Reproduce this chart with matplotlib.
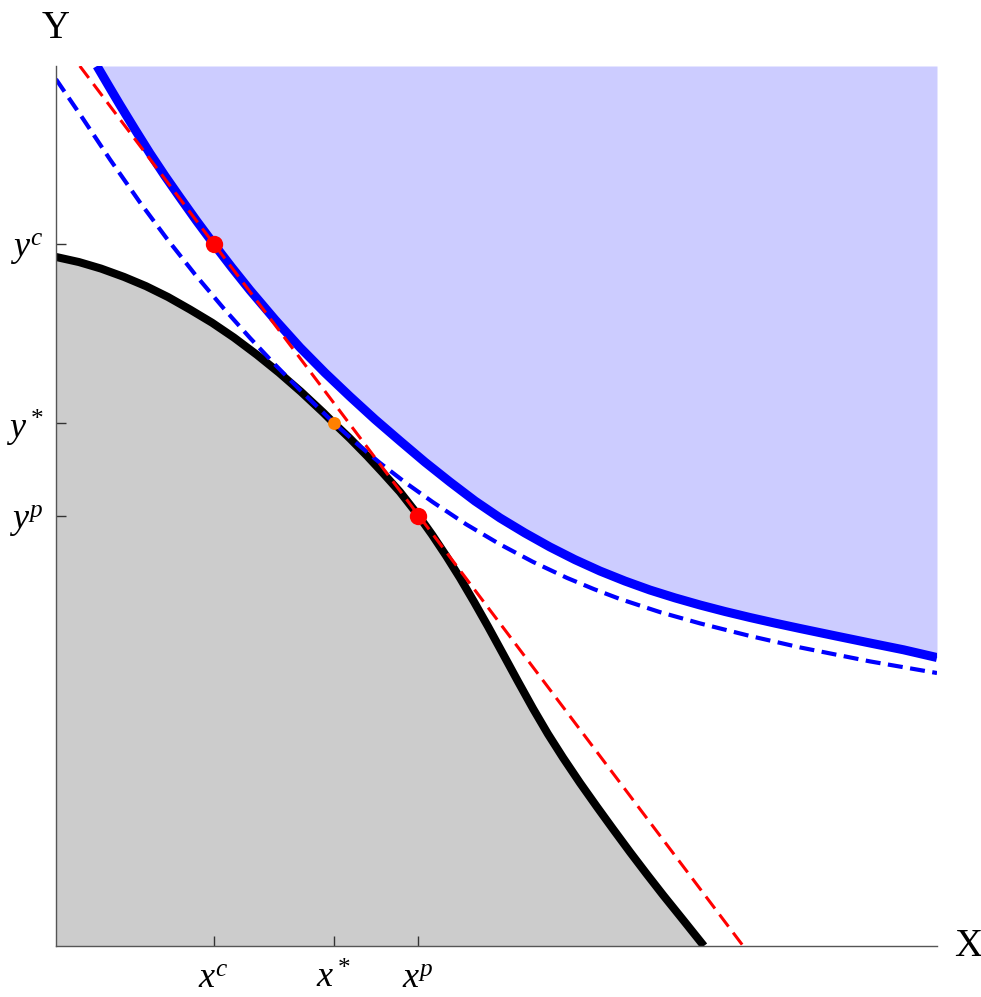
import matplotlib
matplotlib.use("Agg")
import matplotlib.pyplot as plt

# ---- data (x: good X, y: good Y) ----
ppf_x = [0.0, 0.261, 0.511, 0.772, 1.022, 1.271, 1.521, 1.771, 2.020, 2.281, 2.531, 2.781,
         3.031, 3.155, 3.337, 3.530, 3.712, 3.905, 4.109, 4.268, 4.427, 4.586, 4.745, 4.904,
         5.074, 5.244, 5.414, 5.584, 5.755, 5.948, 6.141, 6.322, 6.515, 6.708, 6.890, 7.117, 7.355]
ppf_y = [7.830, 7.772, 7.698, 7.603, 7.498, 7.375, 7.233, 7.083, 6.914, 6.718, 6.516, 6.298,
         6.064, 5.941, 5.767, 5.570, 5.374, 5.159, 4.898, 4.675, 4.436, 4.182, 3.911, 3.630,
         3.319, 3.006, 2.699, 2.409, 2.140, 1.853, 1.580, 1.330, 1.068, 0.814, 0.580, 0.298, 0.0]

ic_hi_x = [0.465, 0.596, 0.726, 0.897, 1.067, 1.237, 1.407, 1.595, 1.782, 1.992, 2.202,
           2.486, 2.770, 3.053, 3.337, 3.621, 3.905, 4.188, 4.472, 4.756, 5.040, 5.323,
           5.607, 5.891, 6.175, 6.459, 6.742, 7.026, 7.310, 7.594, 7.877, 8.161, 8.445,
           8.842, 9.240, 9.620, 10.0]
ic_hi_y = [10.0, 9.777, 9.558, 9.278, 9.006, 8.750, 8.506, 8.241, 7.989, 7.715, 7.452,
           7.117, 6.801, 6.514, 6.244, 5.984, 5.739, 5.499, 5.273, 5.057, 4.864, 4.693,
           4.534, 4.390, 4.261, 4.147, 4.045, 3.956, 3.875, 3.801, 3.733, 3.669, 3.608,
           3.525, 3.443, 3.366, 3.278]

ic_lo_x = [0.0, 0.306, 0.613, 0.953, 1.260, 1.578, 1.907, 2.202, 2.474, 2.770, 3.155, 3.417,
           3.678, 3.973, 4.279, 4.654, 5.040, 5.414, 5.800, 6.107, 6.402, 6.856, 7.310,
           7.877, 8.445, 9.240, 10.0]
ic_lo_y = [9.85, 9.401, 8.938, 8.450, 8.036, 7.632, 7.241, 6.910, 6.619, 6.318, 5.943, 5.707,
           5.489, 5.261, 5.043, 4.793, 4.564, 4.365, 4.183, 4.055, 3.943, 3.794, 3.666,
           3.523, 3.393, 3.234, 3.102]

price_x = [0.27, 7.80]
price_y = [10.0, 0.0]

xc, yc = 1.79, 7.98
xs, ys = 3.155, 5.94
xp, yp = 4.11, 4.89

xtick_vals = [xc, xs, xp]
xtick_labels = [r'$x^c$', r'$x^*$', r'$x^p$']
ytick_vals = [yp, ys, yc]
ytick_labels = [r'$y^p$', r'$y^*$', r'$y^c$']

# ---- style ----
plt.rcParams['mathtext.fontset'] = 'custom'
plt.rcParams['mathtext.it'] = 'Liberation Serif:italic'
plt.rcParams['mathtext.rm'] = 'Liberation Serif'
plt.rcParams['font.family'] = ['Liberation Serif', 'DejaVu Serif']

fig = plt.figure(figsize=(9.81, 9.97), dpi=100)
ax = fig.add_axes([56/981, (997-946)/997, 881/981, 880/997])
ax.set_xlim(0, 10)
ax.set_ylim(0, 10)

# fills
ax.fill_between(ic_hi_x, ic_hi_y, 10, color='#ccccff', lw=0, zorder=1)
ax.fill_between(ppf_x, ppf_y, 0, color='#cccccc', lw=0, zorder=1)

# curves
ax.plot(ic_hi_x, ic_hi_y, color='#0000ff', lw=6.5, solid_capstyle='butt',
        solid_joinstyle='round', zorder=3)
ax.plot(ppf_x, ppf_y, color='black', lw=5.8, solid_capstyle='butt',
        solid_joinstyle='round', zorder=4)
ax.plot(ic_lo_x, ic_lo_y, color='#0000ff', lw=3.0, dashes=(3.6, 1.8), zorder=5)
ax.plot(price_x, price_y, color='#ff0000', lw=2.2, dashes=(4.9, 2.5), zorder=6)

# points
ax.plot([xc, xp], [yc, yp], 'o', color='#ff0000', ms=12.5, mew=0, zorder=8)
ax.plot([xs], [ys], 'o', color='#ff8000', ms=9.3, mew=0, zorder=8)

# axes
for s in ['top', 'right']:
    ax.spines[s].set_visible(False)
for s in ['left', 'bottom']:
    ax.spines[s].set_color('#555555')
    ax.spines[s].set_linewidth(1.0)
    ax.spines[s].set_zorder(10)

ax.set_xticks(xtick_vals)
ax.set_xticklabels(xtick_labels)
ax.set_yticks(ytick_vals)
ax.set_yticklabels(ytick_labels)
ax.tick_params(axis='both', direction='in', length=7, width=1, color='#333333',
               labelsize=26)
ax.tick_params(axis='x', pad=12)
ax.tick_params(axis='y', pad=9)

ax.text(0, 1.043, 'Y', transform=ax.transAxes, ha='center', va='center', fontsize=28)
ax.text(1.035, 0.0, 'X', transform=ax.transAxes, ha='center', va='center', fontsize=28)

fig.savefig('out.png', dpi=100)
